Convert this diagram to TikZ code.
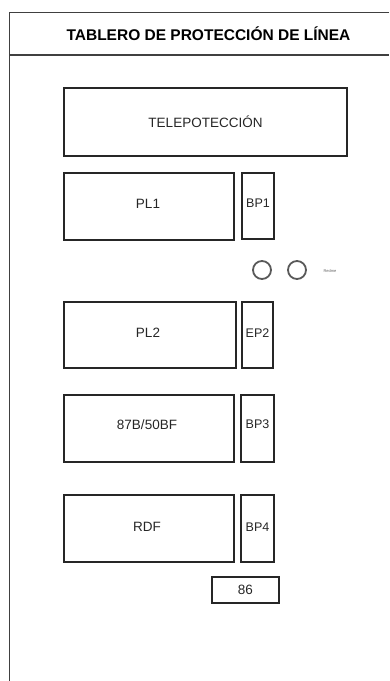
\documentclass[tikz,border=0pt]{standalone}
\usepackage{fontspec}
\setmainfont{Liberation Sans}
\begin{document}
\begin{tikzpicture}[x=1pt,y=-1pt,
  box/.style={draw=black!85,line width=1.3pt},
  lbl/.style={font=\fontsize{13.5}{15}\selectfont,text=black!85},
  nlbl/.style={font=\fontsize{12.5}{14}\selectfont,text=black!85},
  frame/.style={draw=black!75,line width=1.5pt},
  lamp/.style={draw=black!65,line width=1.8pt}]
\useasboundingbox (0,0) rectangle (389,681);
% outer frame
\draw[frame] (389,12.5) -- (9.5,12.5) -- (9.5,681);
\draw[frame] (9.5,55) -- (389,55);
\node[font=\bfseries\fontsize{15.5}{17}\selectfont] (title) at (208.5,34) {TABLERO DE PROTECCIÓN DE LÍNEA};
% boxes
\draw[box] (64,88) rectangle (347,156);
\node[lbl] (tele) at (205.5,122) {TELEPOTECCIÓN};
\draw[box] (64,173) rectangle (234,240);
\node[lbl] (pl1) at (148,204) {PL1};
\draw[box] (242,173) rectangle (274,239);
\node[nlbl] (bp1) at (258,203) {BP1};
\draw[lamp] (262,270) circle (9);
\draw[lamp] (297,270) circle (9);
\node[font=\fontsize{4}{5}\selectfont,text=black!60] (red) at (330,271) {Redme};
\draw[box] (64,302) rectangle (236,368);
\node[lbl] (pl2) at (148,333) {PL2};
\draw[box] (242,302) rectangle (273,368);
\node[nlbl] (ep2) at (257.5,333) {EP2};
\draw[box] (64,395) rectangle (234,462);
\node[lbl] (b87) at (147,425) {87B/50BF};
\draw[box] (241,395) rectangle (274,462);
\node[nlbl] (bp3) at (257.5,424) {BP3};
\draw[box] (64,495) rectangle (234,562);
\node[lbl] (rdf) at (147,527) {RDF};
\draw[box] (241,495) rectangle (274,562);
\node[nlbl] (bp4) at (257.5,527) {BP4};
\draw[box] (212,577) rectangle (279,603);
\node[lbl] (k86) at (245.5,590) {86};
\end{tikzpicture}
\end{document}
